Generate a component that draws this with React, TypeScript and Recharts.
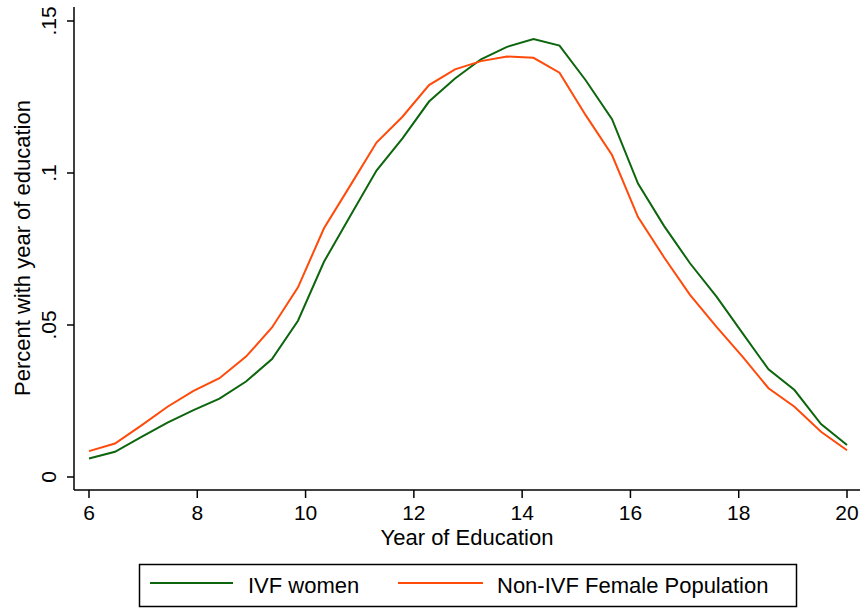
import React from 'react';
import { LineChart, Line, XAxis, YAxis } from 'recharts';

const years = [6, 6.48, 6.97, 7.45, 7.93, 8.41, 8.9, 9.38, 9.86, 10.34, 10.83, 11.31, 11.79, 12.28, 12.76, 13.24, 13.72, 14.21, 14.69, 15.17, 15.66, 16.14, 16.62, 17.1, 17.59, 18.07, 18.55, 19.03, 19.52, 20];
const ivfWomen = [0.0061, 0.0083, 0.0132, 0.0179, 0.022, 0.0258, 0.0314, 0.0388, 0.0514, 0.0708, 0.086, 0.1008, 0.1114, 0.1235, 0.1311, 0.1374, 0.1415, 0.1441, 0.1419, 0.1306, 0.1177, 0.0965, 0.0826, 0.0703, 0.0593, 0.0473, 0.0354, 0.0286, 0.0174, 0.0105];
const nonIvf = [0.0085, 0.011, 0.017, 0.0231, 0.0283, 0.0325, 0.0396, 0.0492, 0.0624, 0.0818, 0.096, 0.11, 0.1185, 0.1289, 0.1341, 0.1368, 0.1383, 0.1379, 0.133, 0.1191, 0.1059, 0.0855, 0.0723, 0.0599, 0.0494, 0.0396, 0.0292, 0.0231, 0.0149, 0.0088];
const xTicks = [6, 8, 10, 12, 14, 16, 18, 20];
const yTicks = [0, 0.05, 0.1, 0.15];
const yTickLabels = ['0', '.05', '.1', '.15'];

const GREEN = '#0d650d';
const ORANGE = '#ff4a0a';
const FONT = '"Liberation Sans", Arial, Helvetica, sans-serif';

const data = years.map((x, i) => ({ x, ivf: ivfWomen[i], non: nonIvf[i] }));

const XTick = (props: any) => {
  const { x, y, payload } = props;
  return (
    <text x={x} y={y + 20} textAnchor="middle" fontSize={21} fontFamily={FONT} fill="#000">
      {payload.value}
    </text>
  );
};

const YTick = (props: any) => {
  const { x, y, payload } = props;
  const idx = yTicks.indexOf(payload.value);
  const label = idx >= 0 ? yTickLabels[idx] : String(payload.value);
  const bx = x - 9;
  return (
    <text x={bx} y={y} transform={`rotate(-90 ${bx} ${y})`} textAnchor="middle" fontSize={21} fontFamily={FONT} fill="#000">
      {label}
    </text>
  );
};

export default function App() {
  return (
    <div style={{ position: 'absolute', left: 0, top: 0, width: 861, height: 608, background: '#fff' }}>
      <LineChart width={861} height={608} data={data} margin={{ top: 7, right: 1, left: 0, bottom: 68 }}>
        <XAxis
          dataKey="x"
          type="number"
          domain={[5.723, 20.24]}
          ticks={xTicks}
          tickSize={8}
          height={50}
          stroke="#000"
          strokeWidth={1.5}
          tick={<XTick />}
          allowDataOverflow
        />
        <XAxis xAxisId="top" orientation="top" type="number" domain={[5.723, 20.24]} height={0} tick={false} tickLine={false} stroke="#000" strokeWidth={1.5} dataKey="x" />
        <YAxis
          type="number"
          domain={[-0.00428, 0.1546]}
          ticks={yTicks}
          tickSize={7}
          width={74}
          stroke="#000"
          strokeWidth={1.5}
          tick={<YTick />}
          allowDataOverflow
        />
        <YAxis yAxisId="right" orientation="right" width={0} tick={false} tickLine={false} stroke="#000" strokeWidth={1.5} domain={[-0.00428, 0.1546]} />
        <Line type="linear" dataKey="ivf" stroke={GREEN} strokeWidth={2} dot={false} isAnimationActive={false} />
        <Line type="linear" dataKey="non" stroke={ORANGE} strokeWidth={2} dot={false} isAnimationActive={false} />
      </LineChart>
      <svg width={861} height={608} style={{ position: 'absolute', left: 0, top: 0, pointerEvents: 'none' }}>
        <text x={30} y={248} transform="rotate(-90 30 248)" textAnchor="middle" fontSize={22} fontFamily={FONT} fill="#000">
          Percent with year of education
        </text>
        <text x={467} y={545} textAnchor="middle" fontSize={22} fontFamily={FONT} fill="#000">
          Year of Education
        </text>
        <rect x={139.5} y={564.5} width={657} height={42} fill="#fff" stroke="#000" strokeWidth={1.5} />
        <line x1={150} y1={583} x2={233} y2={583} stroke={GREEN} strokeWidth={2} />
        <text x={248} y={593} fontSize={22} fontFamily={FONT} fill="#000">IVF women</text>
        <line x1={398} y1={583} x2={483} y2={583} stroke={ORANGE} strokeWidth={2} />
        <text x={497} y={593} fontSize={22} fontFamily={FONT} fill="#000">Non-IVF Female Population</text>
      </svg>
    </div>
  );
}
